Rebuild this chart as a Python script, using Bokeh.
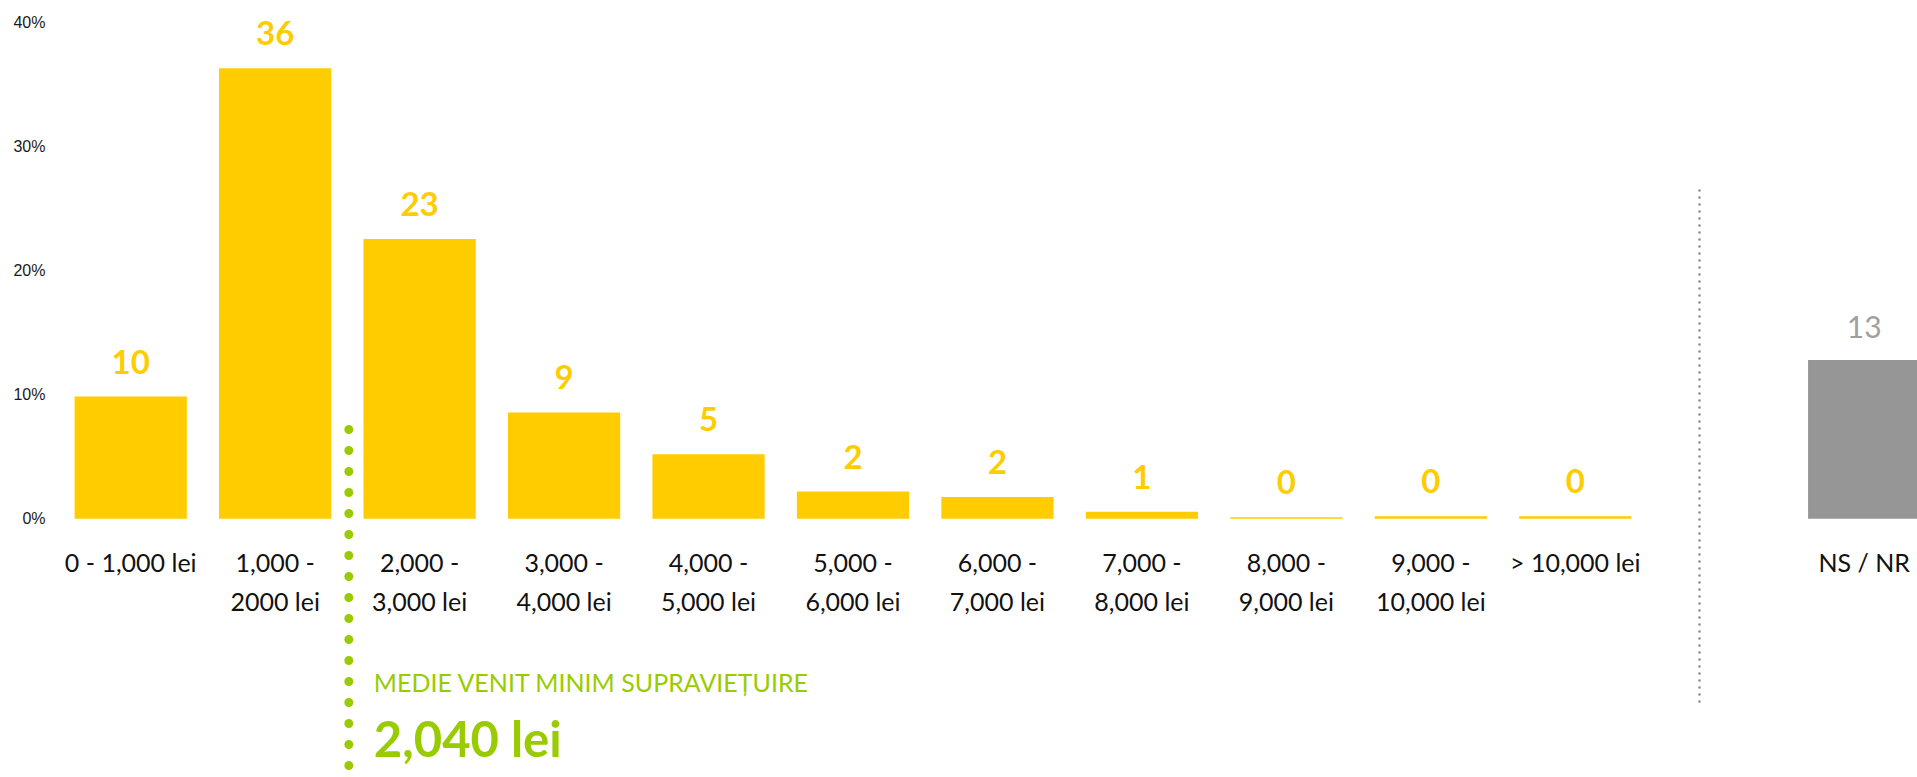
from bokeh.plotting import figure
from bokeh.models import ColumnDataSource, Range1d, FixedTicker, PrintfTickFormatter
from bokeh.core.properties import value
from bokeh.embed import file_html
from bokeh.resources import INLINE

# ---------------- data ----------------
categories = ["0 - 1,000 lei", "1,000 -\n2000 lei", "2,000 -\n3,000 lei", "3,000 -\n4,000 lei",
              "4,000 -\n5,000 lei", "5,000 -\n6,000 lei", "6,000 -\n7,000 lei", "7,000 -\n8,000 lei",
              "8,000 -\n9,000 lei", "9,000 -\n10,000 lei", "> 10,000 lei"]
values = [9.85, 36.3, 22.55, 8.57, 5.2, 2.2, 1.75, 0.56, 0.13, 0.21, 0.21]
value_labels = ["10", "36", "23", "9", "5", "2", "2", "1", "0", "0", "0"]

ns_category = ["NS / NR"]
ns_values = [12.8]
ns_labels = ["13"]
ns_position = [12]

y_ticks = [0, 10, 20, 30, 40]

marker_position = 1.51          # 2,040 lei marker between categories
marker_title = "MEDIE VENIT MINIM SUPRAVIEȚUIRE"
marker_value = "2,040 lei"
separator_position = 10.86

YELLOW = "#FFCC00"
GRAY = "#969696"
GREEN = "#99CC00"
FONT = "Lato"

# ---------------- figure ----------------
W, H = 1917, 777
p = figure(width=W, height=H, output_backend="svg", toolbar_location=None,
           min_border_left=52, min_border_right=0, min_border_top=0, min_border_bottom=0,
           x_range=Range1d(-0.5413, 12.369), y_range=Range1d(-20.846, 41.765))
p.outline_line_color = None
p.grid.visible = False
p.xaxis.visible = False
p.background_fill_color = "white"
p.border_fill_color = "white"

yax = p.yaxis[0]
yax.ticker = FixedTicker(ticks=y_ticks)
yax.formatter = PrintfTickFormatter(format="%d%%")
yax.axis_line_color = None
yax.major_tick_line_color = None
yax.minor_tick_line_color = None
yax.major_tick_out = 0
yax.major_label_standoff = 7
yax.major_label_text_font = "Liberation Sans"
yax.major_label_text_font_size = "16px"
yax.major_label_text_color = "#1a1a1a"

xs = list(range(len(categories)))
line1 = [c.split("\n")[0] for c in categories]
two_line = [(i, c.split("\n")[1]) for i, c in enumerate(categories) if "\n" in c]

src = ColumnDataSource(dict(x=xs, top=values, lab=value_labels, l1=line1))
src2 = ColumnDataSource(dict(x=[t[0] for t in two_line], l2=[t[1] for t in two_line]))
ns_src = ColumnDataSource(dict(x=ns_position, top=ns_values, lab=ns_labels, l1=ns_category))

BW = 0.777
p.vbar(x="x", top="top", bottom=0, width=BW, source=src, fill_color=YELLOW, line_color=None)
p.vbar(x="x", top="top", bottom=0, width=BW, source=ns_src, fill_color=GRAY, line_color=None)

# value labels
p.text(x="x", y="top", text="lab", source=src, text_font=value(FONT), text_font_style="bold",
       text_font_size="33px", text_color=YELLOW, text_align="center", text_baseline="alphabetic",
       y_offset=-35)
p.text(x="x", y="top", text="lab", source=ns_src, text_font=value(FONT),
       text_font_size="30px", text_color="#A0A0A0", text_align="center", text_baseline="alphabetic",
       y_offset=-33)

# category labels (two lines)
p.text(x="x", y=0, text="l1", source=src, text_font=value(FONT), text_font_size="25px",
       text_color="#111111", text_align="center", text_baseline="alphabetic", y_offset=43)
p.text(x="x", y=0, text="l2", source=src2, text_font=value(FONT), text_font_size="25px",
       text_color="#111111", text_align="center", text_baseline="alphabetic", y_offset=82.3)
p.text(x="x", y=0, text="l1", source=ns_src, text_font=value(FONT), text_font_size="25px",
       text_color="#111111", text_align="center", text_baseline="alphabetic", y_offset=43)

# separator (gray dotted)
p.segment(x0=[separator_position], y0=[26.45], x1=[separator_position], y1=[-14.88],
          line_color="#8C8C8C", line_width=2.6, line_dash="0 7", line_cap="round")

# marker (green dotted line + annotation)
p.segment(x0=[marker_position], y0=[7.2], x1=[marker_position], y1=[-26],
          line_color=GREEN, line_width=9, line_dash="0 21", line_cap="round")
p.text(x=[marker_position], y=[0], text=[marker_title], text_font=value(FONT),
       text_font_size="25px", text_color=GREEN, text_align="left", text_baseline="alphabetic",
       x_offset=25, y_offset=163.5)
p.text(x=[marker_position], y=[0], text=[marker_value], text_font=value(FONT), text_font_style="bold",
       text_font_size="49px", text_color=GREEN, text_align="left", text_baseline="alphabetic",
       x_offset=25, y_offset=218.7)

open("out.html", "w").write(file_html(p, INLINE))
